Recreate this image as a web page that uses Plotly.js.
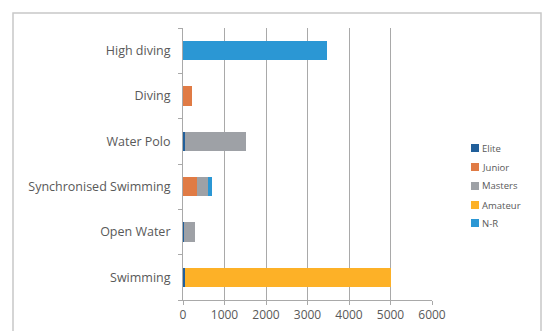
<!DOCTYPE html>
<html>
<head>
<meta charset="utf-8">
<script src="https://cdn.plot.ly/plotly-3.0.1.min.js"></script>
<style>
html,body{margin:0;padding:0;background:#fff;}
#chart{width:543px;height:331px;}
</style>
</head>
<body>
<div id="chart"></div>
<script>
const categories = ['Swimming', 'Open Water', 'Synchronised Swimming', 'Water Polo', 'Diving', 'High diving'];
const seriesNames = ['Elite', 'Junior', 'Masters', 'Amateur', 'N-R'];
const elite   = [60, 30, 0, 60, 0, 0];
const junior  = [0, 0, 330, 0, 220, 0];
const masters = [0, 250, 270, 1450, 0, 0];
const amateur = [4940, 0, 0, 0, 0, 0];
const nr      = [0, 0, 100, 0, 0, 3460];
const xTicks  = [0, 1000, 2000, 3000, 4000, 5000, 6000];

const colors = ['#215f9a', '#e07b45', '#9ea1a6', '#fdb127', '#2b97d4'];
const values = [elite, junior, masters, amateur, nr];

const font = "'Open Sans', Lato, sans-serif";
const traces = seriesNames.map((n, i) => ({
  type: 'bar',
  orientation: 'h',
  name: n,
  y: categories,
  x: values[i],
  marker: {color: colors[i], line: {width: 0}},
  hoverinfo: 'x+name',
  showlegend: false
}));

// plot area in pixels: x 183..432, y 28..300
const PL = 183, PR = 432, PT = 28, PB = 300;
const px = v => (v - PL) / (PR - PL);
const py = v => (PB - v) / (PB - PT);

const shapes = [{
  type: 'rect', xref: 'paper', yref: 'paper',
  x0: px(13), x1: px(541), y0: py(345), y1: py(13),
  line: {color: '#c8c8c8', width: 1.5},
  fillcolor: 'rgba(0,0,0,0)', layer: 'below'
}];
const annotations = [];
const legendRows = [148, 167, 186, 205, 223];
seriesNames.forEach((n, i) => {
  const cy = legendRows[i];
  shapes.push({
    type: 'rect', xref: 'paper', yref: 'paper',
    x0: px(471), x1: px(479), y0: py(cy + 4), y1: py(cy - 4),
    line: {width: 0}, fillcolor: colors[i], layer: 'above'
  });
  annotations.push({
    xref: 'paper', yref: 'paper', x: px(481), y: py(cy),
    xanchor: 'left', yanchor: 'middle', showarrow: false,
    borderpad: 0,
    text: n, font: {family: font, size: 9.5, color: '#595959'}
  });
});

const layout = {
  width: 543, height: 331,
  margin: {l: PL, r: 543 - PR, t: PT, b: 331 - PB, pad: 0, autoexpand: false},
  paper_bgcolor: '#ffffff',
  plot_bgcolor: '#ffffff',
  barmode: 'stack',
  bargap: 0.58,
  showlegend: false,
  font: {family: font, size: 11, color: '#595959'},
  xaxis: {
    range: [0, 6000],
    tickvals: xTicks,
    ticktext: xTicks.map(String),
    showgrid: true, gridcolor: '#a9a9a9', gridwidth: 1,
    showline: true, linecolor: '#a9a9a9', linewidth: 1,
    ticks: 'outside', ticklen: 4, tickcolor: '#a9a9a9',
    zeroline: false,
    tickfont: {family: font, size: 12, color: '#595959'},
    fixedrange: true
  },
  yaxis: {
    type: 'category',
    categoryorder: 'array', categoryarray: categories,
    showgrid: false,
    showline: true, linecolor: '#a9a9a9', linewidth: 1,
    ticks: 'outside', ticklen: 4, tickcolor: '#a9a9a9',
    tickson: 'boundaries',
    ticklabelstandoff: 9,
    tickfont: {family: font, size: 12.5, color: '#595959'},
    fixedrange: true
  },
  shapes: shapes,
  annotations: annotations
};

Plotly.newPlot('chart', traces, layout, {displayModeBar: false, staticPlot: true});
</script>
</body>
</html>
